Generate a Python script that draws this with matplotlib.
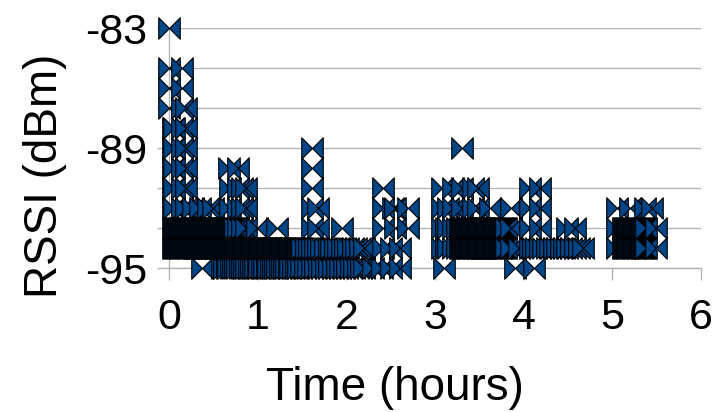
import numpy as np
import matplotlib.pyplot as plt
from matplotlib.path import Path

plt.rcParams['font.family'] = ['Liberation Sans', 'DejaVu Sans']
plt.rcParams['axes.unicode_minus'] = False

# sample times (hours) for each RSSI reading (dBm)
rssi_83 = [0.0]
rssi_85 = [0.0, 0.15]
rssi_86 = [0.0, 0.15]
rssi_87 = [0.0, 0.15, 0.19]
rssi_88 = [0.04, 0.06, 0.15, 0.19]
rssi_89 = [0.04, 0.06, 0.15, 0.19, 1.61, 3.31]
rssi_90 = [0.04, 0.06, 0.15, 0.19, 0.68, 0.78, 1.61]
rssi_91 = [0.04, 0.06, 0.15, 0.19, 0.69, 0.78, 0.82, 0.87, 1.61, 2.41,
           3.08, 3.2, 3.3, 3.43, 3.49, 4.07, 4.18]
rssi_92 = [0.04, 0.06, 0.15, 0.19, 0.27, 0.35, 0.44, 0.5, 0.69, 0.78,
           0.82, 0.87, 1.61, 1.68, 2.41, 2.53, 2.55, 2.69, 3.08, 3.15,
           3.2, 3.3, 3.43, 3.49, 3.62, 3.86, 4.07, 4.18, 5.05, 5.2,
           5.37, 5.45]
rssi_93 = [0.05, 0.06, 0.07, 0.08, 0.09, 0.1, 0.11, 0.12, 0.13, 0.14,
           0.15, 0.16, 0.17, 0.18, 0.19, 0.2, 0.21, 0.22, 0.23, 0.24,
           0.25, 0.26, 0.27, 0.28, 0.29, 0.3, 0.31, 0.32, 0.33, 0.34,
           0.35, 0.36, 0.37, 0.38, 0.39, 0.4, 0.41, 0.42, 0.43, 0.44,
           0.45, 0.46, 0.47, 0.48, 0.49, 0.5, 0.51, 0.52, 0.53, 0.54,
           0.55, 0.56, 0.57, 0.58, 0.59, 0.6, 0.61, 0.62, 0.63, 0.64,
           0.65, 0.66, 0.67, 0.68, 0.69, 0.7, 0.71, 0.72, 0.73, 0.74,
           0.78, 0.82, 0.87, 0.99, 1.22, 1.61, 1.68, 1.95, 2.41, 2.55,
           2.69, 3.08, 3.12, 3.15, 3.2, 3.25,
           3.28, 3.29, 3.3, 3.31, 3.32, 3.33, 3.34, 3.35, 3.36, 3.37,
           3.38, 3.39, 3.4, 3.41, 3.42, 3.43, 3.44, 3.45, 3.46, 3.47,
           3.48, 3.49, 3.5, 3.51, 3.52, 3.53, 3.54, 3.55, 3.56, 3.57,
           3.58, 3.59, 3.6, 3.61, 3.62, 3.63, 3.64, 3.65, 3.66, 3.67,
           3.68, 3.69, 3.7, 3.71, 3.72, 3.73, 3.74, 3.75, 3.76, 3.77,
           3.78, 3.79, 3.8,
           3.86, 4.07, 4.18, 4.49, 4.58, 5.05,
           5.12, 5.13, 5.14, 5.15, 5.16, 5.17, 5.18, 5.19, 5.2, 5.21,
           5.22, 5.23, 5.24, 5.25, 5.26, 5.27, 5.28, 5.29, 5.3, 5.31,
           5.32, 5.33, 5.34, 5.35, 5.36, 5.37, 5.38, 5.49]
rssi_94 = [0.05, 0.06, 0.07, 0.08, 0.09, 0.1, 0.11, 0.12, 0.13, 0.14,
           0.15, 0.16, 0.17, 0.18, 0.19, 0.2, 0.21, 0.22, 0.23, 0.24,
           0.25, 0.26, 0.27, 0.28, 0.29, 0.3, 0.31, 0.32, 0.33, 0.34,
           0.35, 0.36, 0.37, 0.38, 0.39, 0.4, 0.41, 0.42, 0.43, 0.44,
           0.45, 0.46, 0.47, 0.48, 0.49, 0.5, 0.51, 0.52, 0.53, 0.54,
           0.55, 0.56, 0.57, 0.58, 0.59, 0.6, 0.61, 0.62, 0.63, 0.64,
           0.65, 0.66, 0.67, 0.68, 0.69, 0.7, 0.71, 0.72, 0.73, 0.74,
           0.75, 0.76, 0.77, 0.78, 0.79, 0.8, 0.81, 0.82, 0.83, 0.84,
           0.85, 0.86, 0.87, 0.88, 0.89, 0.9, 0.91, 0.92, 0.93, 0.94,
           0.95, 0.96, 0.97, 0.98, 0.99, 1.0, 1.01, 1.02, 1.03, 1.04,
           1.05, 1.06, 1.07, 1.08, 1.09, 1.1, 1.11, 1.12, 1.13, 1.14,
           1.15, 1.16, 1.17, 1.18, 1.19, 1.2, 1.21, 1.22, 1.23, 1.24,
           1.25, 1.26, 1.27, 1.28, 1.29, 1.3, 1.31, 1.32, 1.33, 1.34,
           1.35, 1.36, 1.37, 1.38, 1.39, 1.4, 1.41, 1.42, 1.43, 1.44,
           1.45, 1.46, 1.47, 1.48, 1.49, 1.5,
           1.54, 1.58, 1.61, 1.65, 1.68, 1.72, 1.76, 1.8, 1.83, 1.87,
           1.91, 1.95, 1.98, 2.02, 2.07, 2.11, 2.15, 2.2,
           2.41, 2.5, 2.6, 3.08, 3.12, 3.15, 3.2, 3.25,
           3.28, 3.29, 3.3, 3.31, 3.32, 3.33, 3.34, 3.35, 3.36, 3.37,
           3.38, 3.39, 3.4, 3.41, 3.42, 3.43, 3.44, 3.45, 3.46, 3.47,
           3.48, 3.49, 3.5, 3.51, 3.52, 3.53, 3.54, 3.55, 3.56, 3.57,
           3.58, 3.59, 3.6, 3.61, 3.62, 3.63, 3.64, 3.65, 3.66, 3.67,
           3.68, 3.69, 3.7, 3.71, 3.72, 3.73, 3.74, 3.75, 3.76, 3.77,
           3.78, 3.79, 3.8,
           3.86, 3.95, 4.07, 4.1, 4.14, 4.18, 4.22, 4.26, 4.3, 4.34,
           4.38, 4.42, 4.46, 4.49, 4.53, 4.58, 4.62, 4.67, 5.05,
           5.12, 5.13, 5.14, 5.15, 5.16, 5.17, 5.18, 5.19, 5.2, 5.21,
           5.22, 5.23, 5.24, 5.25, 5.26, 5.27, 5.28, 5.29, 5.3, 5.31,
           5.32, 5.33, 5.34, 5.35, 5.36, 5.37, 5.38, 5.49]
rssi_95 = [0.37,
           0.6, 0.62, 0.65, 0.67, 0.7, 0.72, 0.75, 0.77, 0.8, 0.82,
           0.85, 0.87, 0.9, 0.92, 0.95, 0.97, 1.0, 1.02, 1.05, 1.07,
           1.1, 1.12, 1.15, 1.17, 1.2, 1.22, 1.25, 1.27, 1.3, 1.32,
           1.35, 1.37, 1.4, 1.43, 1.45,
           1.49, 1.53, 1.57, 1.61, 1.65, 1.69, 1.73, 1.77, 1.81, 1.85,
           1.89, 1.93, 1.97, 2.01, 2.05, 2.09, 2.13, 2.17, 2.2,
           2.3, 2.4, 2.5, 2.6, 3.1, 3.9, 4.12]

levels = [-83, -85, -86, -87, -88, -89, -90, -91, -92, -93, -94, -95]
samples = [rssi_83, rssi_85, rssi_86, rssi_87, rssi_88, rssi_89, rssi_90,
           rssi_91, rssi_92, rssi_93, rssi_94, rssi_95]

y_labels = [-95, -89, -83]
y_grid = [-93, -91, -87, -85]

# flatten to one series, drawn in time order
t = np.concatenate([np.asarray(s, float) for s in samples])
r = np.concatenate([np.full(len(s), lv, float) for lv, s in zip(levels, samples)])
order = np.argsort(t, kind='stable')
t, r = t[order], r[order]

# bow-tie marker: two triangles meeting at the centre
bowtie = Path([(-1, -1), (-1, 1), (0, 0), (1, 1), (1, -1), (0, 0), (-1, -1)],
              closed=True)

fig = plt.figure(figsize=(7.2, 4.12), dpi=100)
ax = fig.add_axes([0.2347, 0.3495, 0.7389, 0.5825])

ax.plot(t, r, linestyle='none', marker=bowtie, ms=15.5,
        mfc='#004586', mec='black', mew=0.8, clip_on=False, zorder=3)

ax.set_xlim(0, 6)
ax.set_ylim(-95, -83)
ax.set_xticks(range(7))
ax.set_yticks(y_labels)
ax.set_yticks(y_grid, minor=True)

grey = '#b3b3b3'
ax.grid(True, axis='y', which='both', color=grey, lw=1.0)
ax.set_axisbelow(True)
for side in ['top', 'right']:
    ax.spines[side].set_visible(False)
for side in ['left', 'bottom']:
    ax.spines[side].set_color(grey)
    ax.spines[side].set_linewidth(1.0)

ax.tick_params(axis='both', which='both', direction='out', length=8.6,
               width=1.0, color=grey, labelsize=31)
ax.tick_params(axis='y', pad=7)
ax.tick_params(axis='x', pad=13)

fig.text(45 / 720, 1 - 176 / 412, 'RSSI (dBm)', rotation=90,
         ha='center', va='center', fontsize=33)
fig.text(395 / 720, 1 - 388 / 412, 'Time (hours)',
         ha='center', va='center', fontsize=33)

fig.savefig('out.png', dpi=100)
